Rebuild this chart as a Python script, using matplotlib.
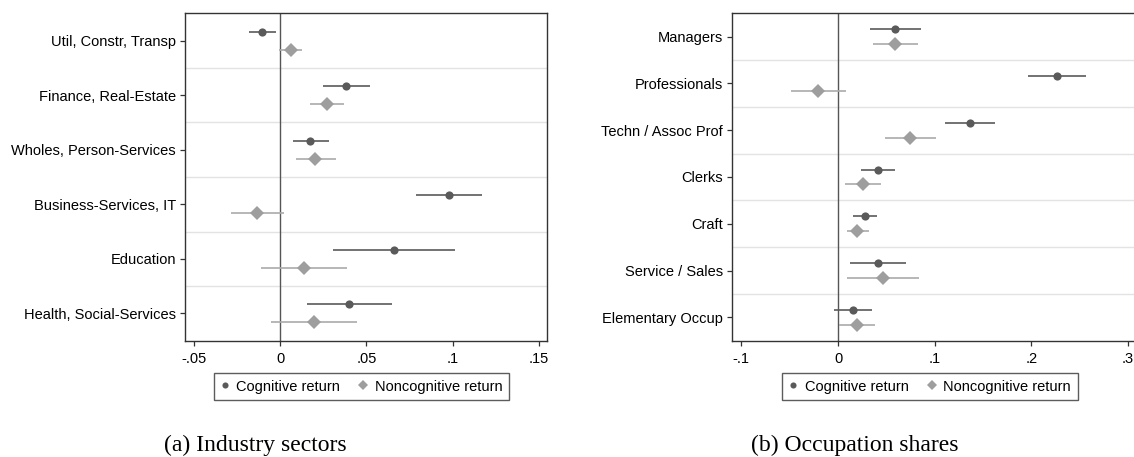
import matplotlib
matplotlib.use("Agg")
import matplotlib.pyplot as plt
from matplotlib.lines import Line2D

# Industry sectors: point estimates and 95% CI bounds
sectors = ["Util, Constr, Transp", "Finance, Real-Estate", "Wholes, Person-Services",
           "Business-Services, IT", "Education", "Health, Social-Services"]
sec_cog = [-0.0102, 0.0380, 0.0176, 0.0979, 0.0660, 0.0402]
sec_cog_lo = [-0.0178, 0.0247, 0.0075, 0.0786, 0.0307, 0.0158]
sec_cog_hi = [-0.0025, 0.0520, 0.0282, 0.1172, 0.1015, 0.0649]
sec_non = [0.0064, 0.0270, 0.0205, -0.0131, 0.0137, 0.0197]
sec_non_lo = [-0.0004, 0.0174, 0.0091, -0.0284, -0.0112, -0.0050]
sec_non_hi = [0.0129, 0.0369, 0.0324, 0.0025, 0.0388, 0.0448]
sec_ticks = [-0.05, 0, 0.05, 0.1, 0.15]
sec_ticklabels = ["-.05", "0", ".05", ".1", ".15"]

# Occupation shares
occupations = ["Managers", "Professionals", "Techn / Assoc Prof", "Clerks",
               "Craft", "Service / Sales", "Elementary Occup"]
occ_cog = [0.0593, 0.2268, 0.1367, 0.0415, 0.0278, 0.0411, 0.0156]
occ_cog_lo = [0.0326, 0.1970, 0.1111, 0.0241, 0.0159, 0.0122, -0.0037]
occ_cog_hi = [0.0863, 0.2560, 0.1626, 0.0589, 0.0404, 0.0704, 0.0356]
occ_non = [0.0593, -0.0204, 0.0744, 0.0256, 0.0200, 0.0467, 0.0193]
occ_non_lo = [0.0359, -0.0489, 0.0481, 0.0070, 0.0089, 0.0096, 0.0007]
occ_non_hi = [0.0826, 0.0085, 0.1015, 0.0444, 0.0319, 0.0833, 0.0378]
occ_ticks = [-0.1, 0, 0.1, 0.2, 0.3]
occ_ticklabels = ["-.1", "0", ".1", ".2", ".3"]

COG = "#5a5a5a"
NON = "#9e9e9e"
SANS = ["Liberation Sans", "DejaVu Sans"]
SERIF = ["Liberation Serif", "DejaVu Serif"]

plt.rcParams["font.family"] = SANS


def coefPanel(ax, labels, cog, cog_lo, cog_hi, non, non_lo, non_hi,
              ticks, ticklabels, xlim, offset):
    n = len(labels)
    rows = list(range(n))
    # light separators between categories
    for k in range(1, n):
        ax.axhline(k - 0.5, color="#e3e3e3", lw=1.0, zorder=0)
    ax.axvline(0, color="#555555", lw=1.0, zorder=1)

    y_cog = [r - offset for r in rows]
    y_non = [r + offset for r in rows]
    ax.hlines(y_cog, cog_lo, cog_hi, color=COG, lw=1.2, zorder=2)
    ax.plot(cog, y_cog, "o", color=COG, ms=5.9, mew=0, zorder=3)
    ax.hlines(y_non, non_lo, non_hi, color="#aaaaaa", lw=1.2, zorder=2)
    ax.plot(non, y_non, "D", color=NON, ms=6.8, mew=0, zorder=3)

    ax.set_ylim(n - 0.5, -0.5)
    ax.set_xlim(*xlim)
    ax.set_yticks(rows)
    ax.set_yticklabels(labels)
    ax.set_xticks(ticks)
    ax.set_xticklabels(ticklabels)
    ax.tick_params(axis="both", labelsize=10.5, length=3.8, width=0.9,
                   color="#333333", pad=2.5)
    ax.tick_params(axis="x", pad=4)
    for sp in ax.spines.values():
        sp.set_color("#333333")
        sp.set_linewidth(1.0)


fig = plt.figure(figsize=(11.34, 4.57), dpi=100)
axA = fig.add_axes([0.1629, 0.2545, 0.3192, 0.7164])
axB = fig.add_axes([0.6452, 0.2545, 0.3581, 0.7164])

coefPanel(axA, sectors, sec_cog, sec_cog_lo, sec_cog_hi, sec_non, sec_non_lo,
          sec_non_hi, sec_ticks, sec_ticklabels, (-0.0552, 0.1545), 0.165)
coefPanel(axB, occupations, occ_cog, occ_cog_lo, occ_cog_hi, occ_non, occ_non_lo,
          occ_non_hi, occ_ticks, occ_ticklabels, (-0.11, 0.31), 0.16)

handles = [Line2D([], [], ls="none", marker="o", color=COG, ms=4.4, mew=0),
           Line2D([], [], ls="none", marker="D", color=NON, ms=5.0, mew=0)]
names = ["Cognitive return", "Noncognitive return"]
for cx in (361.5 / 1134, 929.8 / 1134):
    leg = fig.legend(handles, names, loc="center", bbox_to_anchor=(cx, 1 - 386.5 / 457),
                     ncol=2, fontsize=10.5, frameon=True, fancybox=False,
                     handlelength=0.6, handletextpad=0.5, columnspacing=1.3,
                     borderpad=0.45, borderaxespad=0)
    leg.get_frame().set_edgecolor("#333333")
    leg.get_frame().set_linewidth(1.0)

fig.text(255 / 1134, 1 - 445 / 457, "(a) Industry sectors", ha="center", va="center",
         fontsize=17, family=SERIF)
fig.text(854.5 / 1134, 1 - 445 / 457, "(b) Occupation shares", ha="center", va="center",
         fontsize=17, family=SERIF)

fig.savefig("out.png", dpi=100)
